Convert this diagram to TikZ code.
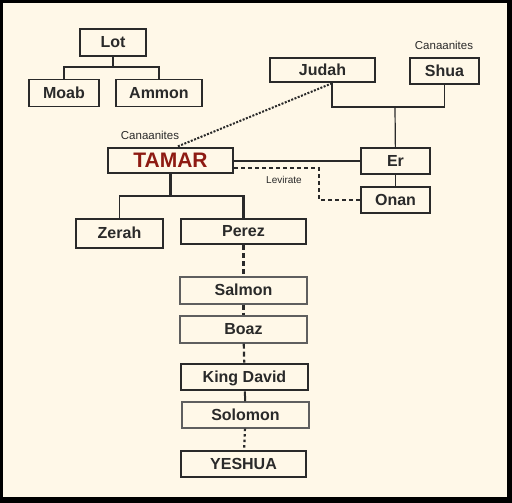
\documentclass[tikz,border=0pt]{standalone}
\usepackage{fontspec}
\setmainfont{Liberation Sans}
\usetikzlibrary{positioning}
\definecolor{cream}{HTML}{FFF8E8}
\definecolor{tamarred}{HTML}{8E1A12}
\definecolor{ink}{HTML}{2A2A2A}

\begin{document}
\begin{tikzpicture}[
    x=1pt, y=-1pt,
    person/.style={
        draw=ink,
        line width=1.2pt,
        rectangle,
        minimum height=27pt,
        inner sep=1pt,
        text height=11.5pt,
        text depth=1pt,
        font=\fontsize{16}{18}\selectfont\bfseries,
        text=ink
    },
    heavy/.style={person, line width=2.6pt},
    faint/.style={person, draw=ink!75},
    tag/.style={font=\fontsize{11.5}{13}\selectfont, text=ink, inner sep=0pt},
    link/.style={draw=ink, line width=1.2pt},
    boldlink/.style={draw=ink, line width=2.6pt},
    chain/.style={draw=ink, line width=2.2pt, dash pattern=on 5pt off 3pt}
]
\useasboundingbox (0,0) rectangle (512,503);
\fill[black] (0,0) rectangle (512,503);
\fill[cream] (3,3) rectangle (507,497);

% Lot's line
\node[person, minimum width=66pt] (lot) at (113,42.5) {Lot};
\node[person, minimum width=70pt] (moab) at (64,93) {Moab};
\node[person, minimum width=86pt] (ammon) at (159,93) {Ammon};

% Judah and Shua
\node[heavy, minimum width=105pt, minimum height=24pt] (judah) at (322.5,70) {Judah};
\node[person, minimum width=69pt, minimum height=26pt] (shua) at (444.5,71) {Shua};
\node[tag] (canshua) at (444,45) {Canaanites};
\node[person, minimum width=69pt, minimum height=26pt] (er) at (395.5,161) {Er};
\node[person, minimum width=69pt, minimum height=26pt] (onan) at (395.5,200) {Onan};

% Tamar and her sons
\node[heavy, minimum width=125pt, minimum height=25pt, text height=15pt,
      font=\fontsize{21}{23}\selectfont\bfseries, text=tamarred] (tamar) at (170.5,160.5) {TAMAR};
\node[tag] (cantamar) at (150,135) {Canaanites};
\node[person, minimum width=87pt, minimum height=29pt] (zerah) at (119.5,233.5) {Zerah};
\node[heavy, minimum width=125pt, minimum height=25pt] (perez) at (243.5,231.5) {Perez};

% line of descent
\node[faint, minimum width=127pt] (salmon) at (243.5,290.5) {Salmon};
\node[faint, minimum width=127pt] (boaz) at (243.5,329.5) {Boaz};
\node[heavy, minimum width=127pt, minimum height=26pt] (david) at (244.5,377) {King David};
\node[faint, minimum width=127pt, minimum height=26pt] (solomon) at (245.5,415) {Solomon};
\node[heavy, minimum width=125pt, minimum height=26pt] (yeshua) at (243.5,464) {YESHUA};

% junctions
\coordinate (lotj) at (113,67);
\coordinate (judj) at (395,107);
\coordinate (tamj) at (170.5,196);
\coordinate (levj) at (319,168);

% connectors
\draw[link] (lot) -- (lotj);
\draw[link] (moab) |- (lotj) -| (ammon);
\draw[link] ([xshift=9.5pt]judah.south) |- (judj) -| (shua);
\draw[link] (judj) -- (er);
\draw[link] (er) -- (onan);
\draw[link] (tamar.east |- er) -- (er);
\draw[link, dash pattern=on 4pt off 3pt] ([yshift=-7.5pt]tamar.east) -- (levj) |- (onan);
\node[font=\fontsize{10}{11}\selectfont, text=ink] (levirate) at (284,180) {Levirate};
\draw[link, line width=2pt, dash pattern=on 2pt off 1.5pt] ([xshift=9.5pt]judah.south) -- ([xshift=6.5pt]tamar.north);
\draw[boldlink] (tamar) -- (tamj);
\draw[link] (tamj) -| (zerah);
\draw[boldlink] (tamj) -| (perez);

% descent
\path
(perez) edge[chain] (salmon)
(salmon) edge[chain] (boaz)
(boaz) edge[chain] (david)
(david) edge[boldlink, line width=2pt] (solomon)
(solomon) edge[chain, dash pattern=on 2.5pt off 3pt] (yeshua);
\end{tikzpicture}
\end{document}
